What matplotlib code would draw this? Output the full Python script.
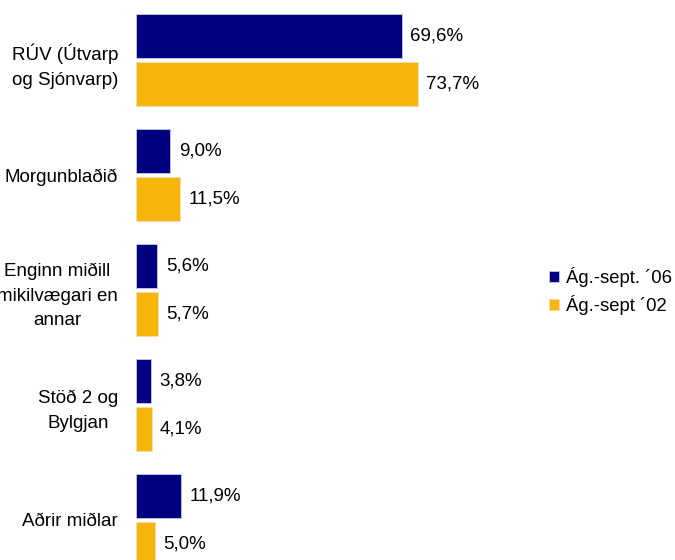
import numpy as np
import matplotlib
matplotlib.use('Agg')
import matplotlib.pyplot as plt

plt.rcParams['font.family'] = ['Liberation Sans', 'DejaVu Sans']

categories = ['RÚV (Útvarp\nog Sjónvarp)', 'Morgunblaðið', 'Enginn miðill\nmikilvægari en\nannar',
              'Stöð 2 og\nBylgjan', 'Aðrir miðlar']
series_names = ['Ág.-sept. ´06', 'Ág.-sept ´02']
vals_06 = [69.6, 9.0, 5.6, 3.8, 11.9]
vals_02 = [73.7, 11.5, 5.7, 4.1, 5.0]
colors = ['#000080', '#F7B50B']

W, H = 675, 560
fig = plt.figure(figsize=(W / 100, H / 100), dpi=100)
ax_w = 400
ax = fig.add_axes([136 / W, 0, ax_w / W, 1])

y = np.arange(len(categories))
bh = 44 / 115
off = 24 / 115
fs = 13.5

b1 = ax.barh(y - off, vals_06, height=bh, color=colors[0], edgecolor='#C8C8E0', lw=0.6, label=series_names[0])
b2 = ax.barh(y + off, vals_02, height=bh, color=colors[1], edgecolor='#F0E0B0', lw=0.6, label=series_names[1])

for bars, vals in [(b1, vals_06), (b2, vals_02)]:
    for r, v in zip(bars, vals):
        ax.text(v + 2.2, r.get_y() + r.get_height() / 2, f'{v:.1f}%'.replace('.', ','),
                va='center', ha='left', fontsize=fs)

ax.set_xlim(0, ax_w / 3.82)
ax.set_ylim((H - 60) / 115, -60 / 115)
ax.set_yticks(y)
ax.set_yticklabels(categories, fontsize=fs, multialignment='center', linespacing=1.6)
ax.tick_params(axis='y', length=0, pad=13)
ax.set_xticks([])
for s in ax.spines.values():
    s.set_visible(False)

fig.legend(handles=[b1, b2], labels=series_names, loc='center left',
           bbox_to_anchor=(532 / W, 1 - 291 / H), frameon=False, fontsize=13.3,
           handlelength=0.55, handleheight=0.55, handletextpad=0.4, labelspacing=0.4)

plt.savefig('out.png', dpi=100)
